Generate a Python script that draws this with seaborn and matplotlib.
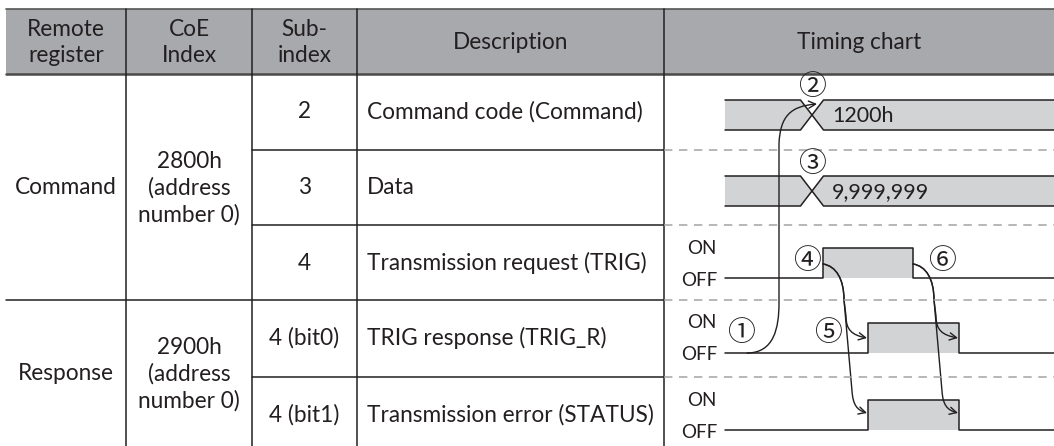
import matplotlib
matplotlib.use("Agg")
import numpy as np
import pandas as pd
import seaborn as sns
import matplotlib.pyplot as plt
from matplotlib.path import Path
from matplotlib.patches import FancyArrowPatch

# ---------------- data ----------------
headers = ["Remote\nregister", "CoE\nIndex", "Sub-\nindex", "Description", "Timing chart"]
registers = ["Command", "Response"]
coe_index = ["2800h\n(address\nnumber 0)", "2900h\n(address\nnumber 0)"]
group_rows = [3, 2]
sub_index = ["2", "3", "4", "4 (bit0)", "4 (bit1)"]
descriptions = ["Command code (Command)", "Data", "Transmission request (TRIG)",
                "TRIG response (TRIG_R)", "Transmission error (STATUS)"]
signal_kind = ["bus", "bus", "bit", "bit", "bit"]
bus_values = ["1200h", "9,999,999", None, None, None]
level_labels = ["ON", "OFF"]

# event times on the timing axis
t_start, t_end = 725, 1054
t_bus = 812
t_trig_on, t_trig_off = 823, 913
t_resp_on, t_resp_off = 868, 959
bit_on = [None, None, t_trig_on, t_resp_on, t_resp_on]
bit_off = [None, None, t_trig_off, t_resp_off, t_resp_off]
step_markers = ["①", "②", "③", "④", "⑤", "⑥"]

# ---------------- layout ----------------
W, H = 1054, 446
col_edges = [6, 126, 252, 357, 664, 1054]
row_edges = [9, 74, 150, 225, 300, 377, 460]

INK = "#231f20"
HEAD = "#a7a9ac"
FILL = "#d1d3d4"
DASH = "#a3a3a3"
FS = 16.3

sns.set_theme(style="white")
plt.rcParams["font.family"] = ["Lato", "DejaVu Sans"]

fig = plt.figure(figsize=(W / 100, H / 100), dpi=100)
ax = fig.add_axes([0, 0, 1, 1])
ax.set_xlim(0, W)
ax.set_ylim(H, 0)
ax.axis("off")

# header
ax.fill_between([col_edges[0], col_edges[-1]], row_edges[0], row_edges[1], color=HEAD, lw=0)
ax.plot([col_edges[0], col_edges[-1]], [row_edges[0]] * 2, color="#555555", lw=1.2)
ax.plot([col_edges[0], col_edges[-1]], [row_edges[1]] * 2, color="#4a4a4a", lw=1.8)
for i, h in enumerate(headers):
    cx = (col_edges[i] + col_edges[i + 1]) / 2
    ax.text(cx, (row_edges[0] + row_edges[1]) / 2 + 1, h, ha="center", va="center",
            fontsize=FS, color=INK, linespacing=1.3)

# vertical grid lines
for x in col_edges[1:-1]:
    ax.plot([x, x], [row_edges[0], H], color=INK, lw=1.1)

# horizontal lines between rows
for r in range(1, len(sub_index)):
    y = row_edges[r + 1]
    group_boundary = r == group_rows[0]
    x0 = col_edges[0] if group_boundary else col_edges[2]
    ax.plot([x0, col_edges[4]], [y, y], color=INK, lw=1.1)
    ax.plot([col_edges[4], col_edges[5]], [y, y], color=DASH, lw=1.1, dashes=(5.5, 4.3))

# group cells
start = 0
for g, n in enumerate(group_rows):
    y0, y1 = row_edges[1 + start], row_edges[1 + start + n]
    if g == len(group_rows) - 1:
        y1 = H
    cy = (y0 + y1) / 2
    ax.text((col_edges[0] + col_edges[1]) / 2, cy, registers[g], ha="center", va="center",
            fontsize=FS, color=INK)
    ax.text((col_edges[1] + col_edges[2]) / 2, cy + 1, coe_index[g], ha="center", va="center",
            fontsize=FS, color=INK, linespacing=1.3)
    start += n

# per-row cells and signals
for i in range(len(sub_index)):
    top = row_edges[i + 1]
    cy = top + 38
    ax.text((col_edges[2] + col_edges[3]) / 2, cy, sub_index[i], ha="center", va="center",
            fontsize=FS, color=INK)
    ax.text(col_edges[3] + 10, cy, descriptions[i], ha="left", va="center",
            fontsize=FS, color=INK)
    if signal_kind[i] == "bus":
        yt, yb = top + 26, top + 56
        ym = (yt + yb) / 2
        hw = 11.5
        ax.fill([t_start, t_bus - hw, t_bus, t_bus - hw, t_start], [yt, yt, ym, yb, yb],
                color=FILL, lw=0)
        ax.fill([t_bus, t_bus + hw, t_end, t_end, t_bus + hw], [ym, yt, yt, yb, yb],
                color=FILL, lw=0)
        d1 = pd.DataFrame({"t": [t_start, t_bus - hw, t_bus + hw, t_end], "y": [yt, yt, yb, yb]})
        d2 = pd.DataFrame({"t": [t_start, t_bus - hw, t_bus + hw, t_end], "y": [yb, yb, yt, yt]})
        for d in (d1, d2):
            sns.lineplot(data=d, x="t", y="y", ax=ax, color=INK, lw=1.1,
                         estimator=None, sort=False)
        ax.text(t_bus + 20, ym + 1, bus_values[i], ha="left", va="center", fontsize=15.5, color=INK)
    else:
        y_on, y_off = top + 23, top + 53
        on, off = bit_on[i], bit_off[i]
        ax.fill_between([on, off], y_on, y_off, color=FILL, lw=0)
        d = pd.DataFrame({"t": [t_start, on, off, t_end], "y": [y_off, y_on, y_off, y_off]})
        sns.lineplot(data=d, x="t", y="y", ax=ax, color=INK, lw=1.1,
                     estimator=None, sort=False, drawstyle="steps-post")
        ax.text(col_edges[4] + 53, y_on, level_labels[0], ha="right", va="center",
                fontsize=13.5, color=INK)
        ax.text(col_edges[4] + 53, y_off + 2, level_labels[1], ha="right", va="center",
                fontsize=13.5, color=INK)

# ---------------- step markers ----------------
r = row_edges
mk = dict(ha="center", va="center", fontsize=20, color=INK,
          family=["Noto Sans CJK JP", "DejaVu Sans"])
ax.text(t_start + 16, r[4] + 33, step_markers[0], **mk)
ax.text(t_bus, r[1] + 13, step_markers[1], **mk)
ax.text(t_bus, r[2] + 14, step_markers[2], **mk)
ax.text(t_trig_on - 16, r[3] + 36, step_markers[3], **mk)
ax.text(t_resp_on - 40, r[4] + 33, step_markers[4], **mk)
ax.text(t_trig_off + 29, r[3] + 36, step_markers[5], **mk)


def arrow(verts, codes):
    p = FancyArrowPatch(path=Path(verts, codes), arrowstyle="->,head_length=5,head_width=2.6",
                        color=INK, lw=1.0, mutation_scale=1, shrinkA=0, shrinkB=0)
    ax.add_patch(p)


M, L, C = Path.MOVETO, Path.LINETO, Path.CURVE4

# ① : TRIG_R OFF -> command code change
x_v = t_bus - 33
y0 = r[4] + 53
arrow([(t_start + 22, y0), (x_v - 5, y0), (x_v, y0 - 25), (x_v, y0 - 50),
       (x_v, r[1] + 70),
       (x_v + 1, r[1] + 42), (x_v + 12, r[1] + 32), (t_bus + 5, r[1] + 30)],
      [M, C, C, C, L, C, C, C])

# ④ / ⑥ : TRIG edges -> TRIG_R and STATUS edges
for te, tr in ((t_trig_on, t_resp_on), (t_trig_off, t_resp_off)):
    ys = r[3] + 39
    xv = te + 21
    common = [(te, ys), (te + 13, ys + 2), (xv, ys + 15), (xv, ys + 36)]
    ya = r[4] + 38
    arrow(common + [(xv + 2, ya - 22), (xv + 2, ya - 8), (xv + 8, ya - 3), (tr - 1, ya)],
          [M, C, C, C, L, C, C, C])
    yb = r[5] + 36
    arrow(common + [(xv + 8, yb - 22), (xv + 9, yb - 8), (xv + 13, yb - 3), (tr - 1, yb)],
          [M, C, C, C, L, C, C, C])

fig.savefig("out.png", dpi=100)
